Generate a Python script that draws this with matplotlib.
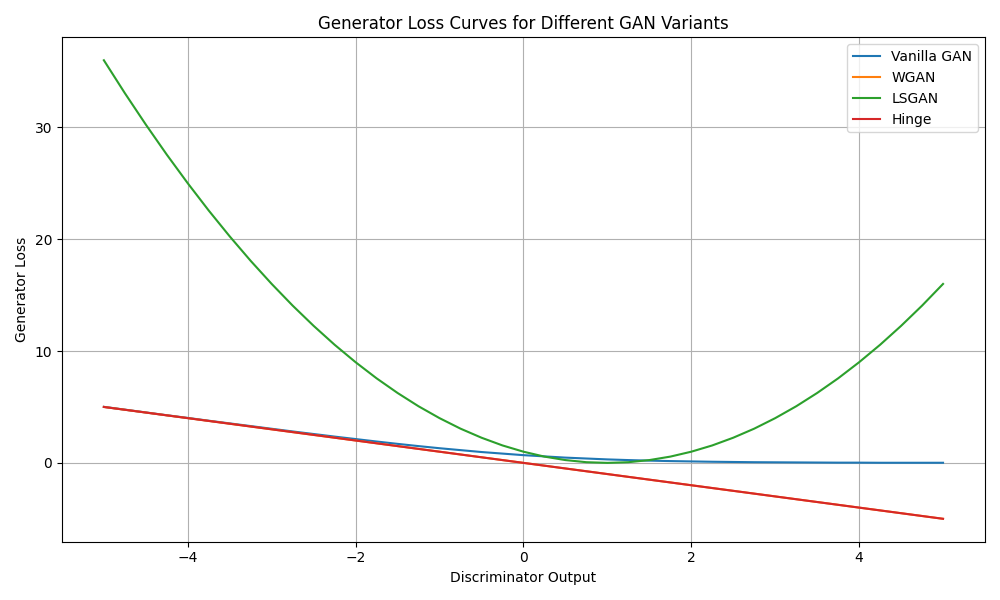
import numpy as np
import matplotlib.pyplot as plt

# discriminator output values (x axis), every 0.25
x = [-5.0, -4.75, -4.5, -4.25, -4.0, -3.75, -3.5, -3.25, -3.0, -2.75, -2.5,
     -2.25, -2.0, -1.75, -1.5, -1.25, -1.0, -0.75, -0.5, -0.25, 0.0,
     0.25, 0.5, 0.75, 1.0, 1.25, 1.5, 1.75, 2.0, 2.25, 2.5,
     2.75, 3.0, 3.25, 3.5, 3.75, 4.0, 4.25, 4.5, 4.75, 5.0]

# generator loss
vanilla = [5.01, 4.76, 4.51, 4.26, 4.02, 3.77, 3.53, 3.29, 3.05, 2.81, 2.58,
           2.35, 2.13, 1.91, 1.70, 1.50, 1.31, 1.14, 0.97, 0.83, 0.69,
           0.58, 0.47, 0.39, 0.31, 0.25, 0.20, 0.16, 0.13, 0.10, 0.08,
           0.06, 0.05, 0.04, 0.03, 0.02, 0.02, 0.01, 0.01, 0.01, 0.01]
wgan = [5.0, 4.75, 4.5, 4.25, 4.0, 3.75, 3.5, 3.25, 3.0, 2.75, 2.5,
        2.25, 2.0, 1.75, 1.5, 1.25, 1.0, 0.75, 0.5, 0.25, 0.0,
        -0.25, -0.5, -0.75, -1.0, -1.25, -1.5, -1.75, -2.0, -2.25, -2.5,
        -2.75, -3.0, -3.25, -3.5, -3.75, -4.0, -4.25, -4.5, -4.75, -5.0]
lsgan = [36.0, 33.06, 30.25, 27.56, 25.0, 22.56, 20.25, 18.06, 16.0, 14.06, 12.25,
         10.56, 9.0, 7.56, 6.25, 5.06, 4.0, 3.06, 2.25, 1.56, 1.0,
         0.56, 0.25, 0.06, 0.0, 0.06, 0.25, 0.56, 1.0, 1.56, 2.25,
         3.06, 4.0, 5.06, 6.25, 7.56, 9.0, 10.56, 12.25, 14.06, 16.0]
hinge = [5.0, 4.75, 4.5, 4.25, 4.0, 3.75, 3.5, 3.25, 3.0, 2.75, 2.5,
         2.25, 2.0, 1.75, 1.5, 1.25, 1.0, 0.75, 0.5, 0.25, 0.0,
         -0.25, -0.5, -0.75, -1.0, -1.25, -1.5, -1.75, -2.0, -2.25, -2.5,
         -2.75, -3.0, -3.25, -3.5, -3.75, -4.0, -4.25, -4.5, -4.75, -5.0]

plt.figure(figsize=(10, 6))
plt.plot(x, vanilla, label='Vanilla GAN')
plt.plot(x, wgan, label='WGAN')
plt.plot(x, lsgan, label='LSGAN')
plt.plot(x, hinge, label='Hinge')
plt.title('Generator Loss Curves for Different GAN Variants')
plt.xlabel('Discriminator Output')
plt.ylabel('Generator Loss')
plt.legend()
plt.grid()
plt.tight_layout()
plt.savefig('out.png', dpi=100)
